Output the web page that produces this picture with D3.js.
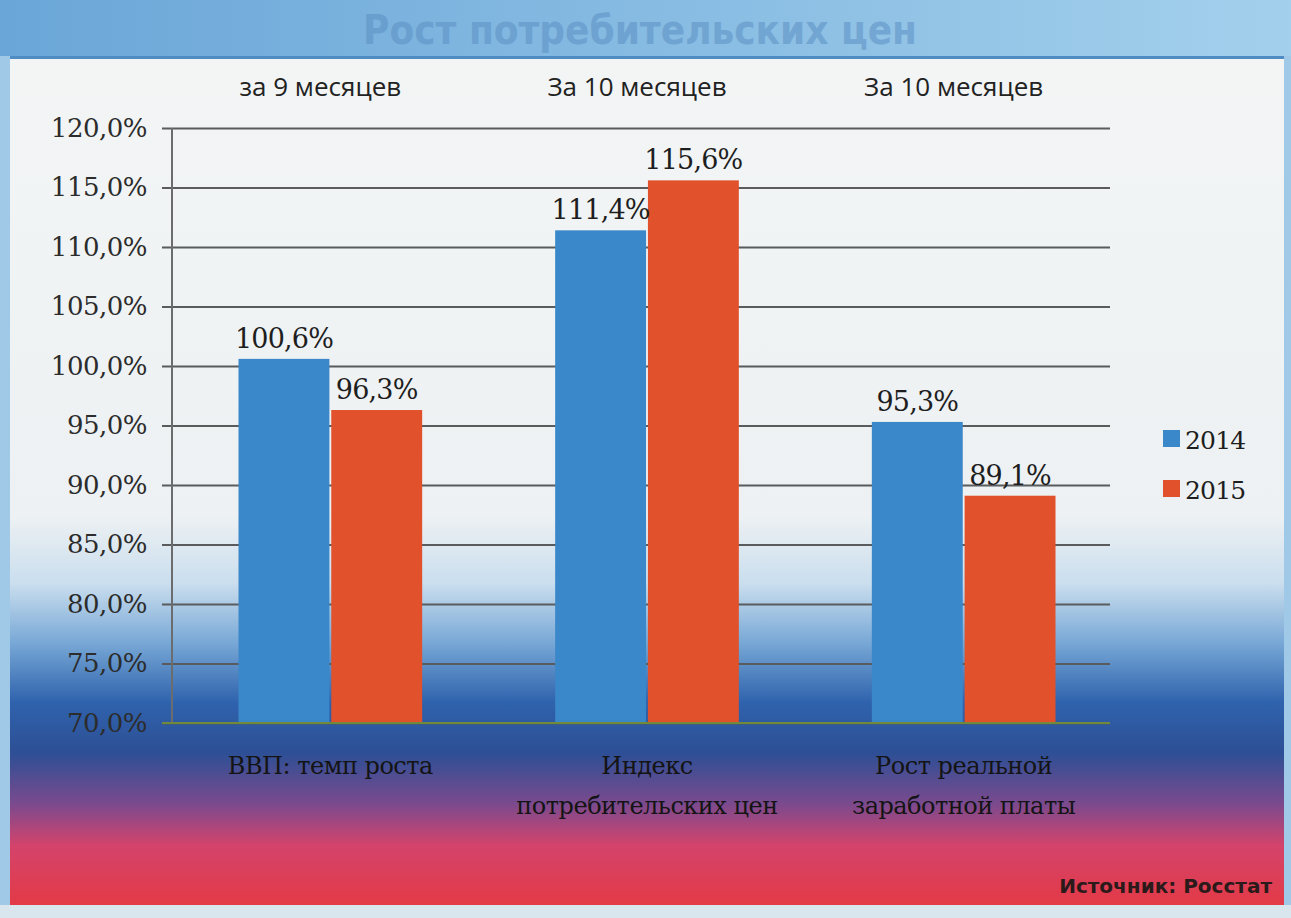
<!DOCTYPE html>
<html>
<head>
<meta charset="utf-8">
<script src="https://cdn.jsdelivr.net/npm/d3@7"></script>
<style>
  body { margin: 0; background: #dfe9ef; }
  svg { display: block; }
</style>
</head>
<body>
<script>
var categories = ["ВВП: темп роста", "Индекс потребительских цен", "Рост реальной заработной платы"];
var catLines = [["ВВП: темп роста"], ["Индекс", "потребительских цен"], ["Рост реальной", "заработной платы"]];
var periods = ["за 9 месяцев", "За 10 месяцев", "За 10 месяцев"];
var years = ["2014", "2015"];
var values2014 = [100.6, 111.4, 95.3];
var values2015 = [96.3, 115.6, 89.1];
var yTicks = [70, 75, 80, 85, 90, 95, 100, 105, 110, 115, 120];

var w = 1291, h = 918;
var colors = ["#3a87c9", "#e1512b"];
var serif = "DejaVu Serif, Liberation Serif, serif";

var svg = d3.select("body")
            .append("svg")
            .attr("width", w)
            .attr("height", h);

var defs = svg.append("defs");

var bg = defs.append("linearGradient")
             .attr("id", "bg")
             .attr("x1", 0).attr("y1", 0).attr("x2", 0).attr("y2", 1);
[[0, "#f3f5f5"], [0.54, "#edf1f3"], [0.62, "#cadeee"], [0.69, "#78a8d6"],
 [0.76, "#2f63ad"], [0.82, "#2d4f95"], [0.88, "#7a4a8e"], [0.93, "#d4436b"], [1, "#e33a46"]]
  .forEach(function(s) { bg.append("stop").attr("offset", s[0]).attr("stop-color", s[1]); });

var head = defs.append("linearGradient")
               .attr("id", "head")
               .attr("x1", 0).attr("y1", 0).attr("x2", 1).attr("y2", 0);
head.append("stop").attr("offset", 0).attr("stop-color", "#6aa6d8");
head.append("stop").attr("offset", 1).attr("stop-color", "#a3d0ec");

// frame and header band
svg.append("rect").attr("x", 0).attr("y", 0).attr("width", w).attr("height", h).attr("fill", "#9fc9e6");
svg.append("rect").attr("x", 0).attr("y", 0).attr("width", w).attr("height", 56).attr("fill", "url(#head)");
svg.append("text")
   .attr("x", 640).attr("y", 44)
   .attr("text-anchor", "middle")
   .attr("font-family", "DejaVu Sans Condensed, DejaVu Sans")
   .attr("font-weight", "bold")
   .attr("font-size", 40)
   .attr("fill", "#5c90c4")
   .attr("opacity", 0.55)
   .text("Рост потребительских цен");
svg.append("rect").attr("x", 10).attr("y", 56).attr("width", 1274).attr("height", 3).attr("fill", "#4f8cc4");
svg.append("rect").attr("x", 10).attr("y", 59).attr("width", 1274).attr("height", 846).attr("fill", "url(#bg)");
svg.append("rect").attr("x", 0).attr("y", 905).attr("width", w).attr("height", 13).attr("fill", "#d9e6ee");

// scales
var x0 = d3.scaleBand()
           .domain(d3.range(categories.length))
           .range([172, 1122])
           .paddingInner(0.42)
           .paddingOuter(0.21);

var x1 = d3.scaleBand()
           .domain(years)
           .range([0, x0.bandwidth()])
           .paddingInner(0.02);

var yScale = d3.scaleLinear()
               .domain([70, 120])
               .range([723, 128]);

// grid + y axis
var yAxis = d3.axisLeft()
              .scale(yScale)
              .tickValues(yTicks)
              .tickSize(-948)
              .tickPadding(15)
              .tickFormat(function(d) { return d.toFixed(1).replace(".", ",") + "%"; });

var gy = svg.append("g")
            .attr("transform", "translate(162,0)")
            .call(yAxis);
gy.select(".domain").remove();
gy.selectAll(".tick line").attr("stroke", "#595b5c").attr("stroke-width", 2);
gy.selectAll(".tick text")
  .attr("font-family", serif)
  .attr("font-size", 26)
  .attr("letter-spacing", -0.5)
  .attr("fill", "#2c2c2c");

svg.append("line")
   .attr("x1", 172).attr("x2", 172)
   .attr("y1", 128).attr("y2", 723)
   .attr("stroke", "#6a6c6e").attr("stroke-width", 2);

// bars
var series = [values2014, values2015];
var groups = svg.append("g").selectAll("g")
                .data(categories)
                .enter()
                .append("g")
                .attr("transform", function(d, i) { return "translate(" + x0(i) + ",0)"; });

groups.selectAll("rect")
      .data(function(d, i) { return years.map(function(y, j) { return {year: y, value: series[j][i], j: j}; }); })
      .enter()
      .append("rect")
      .attr("x", function(d) { return x1(d.year); })
      .attr("y", function(d) { return yScale(d.value); })
      .attr("width", x1.bandwidth())
      .attr("height", function(d) { return yScale(70) - yScale(d.value); })
      .attr("fill", function(d) { return colors[d.j]; });

groups.selectAll("text.val")
      .data(function(d, i) { return years.map(function(y, j) { return {year: y, value: series[j][i]}; }); })
      .enter()
      .append("text")
      .attr("class", "val")
      .attr("x", function(d) { return x1(d.year) + x1.bandwidth() / 2; })
      .attr("y", function(d) { return yScale(d.value) - 11; })
      .attr("text-anchor", "middle")
      .attr("font-family", serif)
      .attr("font-size", 27)
      .attr("letter-spacing", -0.8)
      .attr("fill", "#1e1e1e")
      .text(function(d) { return d.value.toFixed(1).replace(".", ",") + "%"; });

// x axis line
svg.append("line")
   .attr("x1", 162).attr("x2", 1110)
   .attr("y1", 723).attr("y2", 723)
   .attr("stroke", "#6f8a3a").attr("stroke-width", 2);

// period labels on top
groups.append("text")
      .attr("x", x0.bandwidth() / 2 - 10)
      .attr("y", 96)
      .attr("text-anchor", "middle")
      .attr("font-family", "Open Sans, Noto Sans, sans-serif")
      .attr("font-size", 26)
      .attr("fill", "#222")
      .text(function(d, i) { return periods[i]; });

// category labels
groups.each(function(d, i) {
  var t = d3.select(this).append("text")
            .attr("text-anchor", "middle")
            .attr("font-family", serif)
            .attr("font-size", 24)
            .attr("letter-spacing", -0.5)
            .attr("fill", "#141414");
  catLines[i].forEach(function(line, k) {
    t.append("tspan")
     .attr("x", x0.bandwidth() / 2)
     .attr("y", 774 + k * 40)
     .text(line);
  });
});

// legend
var legend = svg.append("g")
                .attr("transform", "translate(1163,430)");
years.forEach(function(y, j) {
  legend.append("rect")
        .attr("x", 0).attr("y", j * 50)
        .attr("width", 17).attr("height", 17)
        .attr("fill", colors[j]);
  legend.append("text")
        .attr("x", 22).attr("y", j * 50 + 19)
        .attr("font-family", serif)
        .attr("font-size", 25)
        .attr("letter-spacing", -0.8)
        .attr("fill", "#1e1e1e")
        .text(y);
});

// source
svg.append("text")
   .attr("x", 1272).attr("y", 893)
   .attr("text-anchor", "end")
   .attr("font-family", "DejaVu Sans, sans-serif")
   .attr("font-weight", "bold")
   .attr("font-size", 20)
   .attr("fill", "#2a1a1a")
   .text("Источник: Росстат");
</script>
</body>
</html>
